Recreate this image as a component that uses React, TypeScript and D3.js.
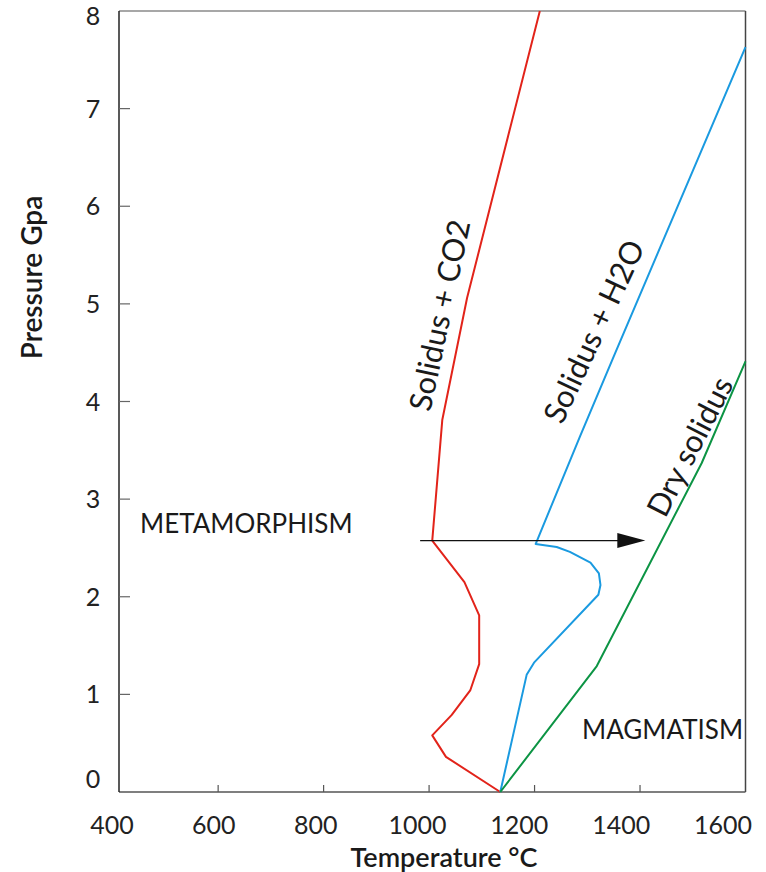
import React from "react";
import * as d3 from "d3";

// ---- data ----
const co2T = [1135, 1032, 1006, 1043, 1078, 1095, 1095, 1067, 1006, 1025, 1072, 1210];
const co2P = [0, 0.36, 0.58, 0.79, 1.04, 1.31, 1.81, 2.15, 2.575, 3.81, 5.06, 8.0];

const h2oT = [1135, 1185, 1199, 1321, 1325, 1322, 1306, 1267, 1242, 1202, 1286, 1350, 1600];
const h2oP = [0, 1.2, 1.325, 2.02, 2.12, 2.24, 2.35, 2.46, 2.51, 2.54, 3.64, 4.46, 7.63];

const dryT = [1135, 1318, 1517, 1600];
const dryP = [0, 1.29, 3.37, 4.41];

const arrowT = [983, 1410];
const arrowP = 2.575;

const xTickValues = [600, 800, 1000, 1200, 1400];
const xTickLabels = [400, 600, 800, 1000, 1200, 1400, 1600];
const yTickValues = [1, 2, 3, 4, 5, 6, 7];
const yTickLabels = [0, 1, 2, 3, 4, 5, 6, 7, 8];

const FONT = "Lato, 'Open Sans', sans-serif";

export default function App() {
  const W = 766;
  const H = 872;
  const x = d3.scaleLinear().domain([412, 1600]).range([119, 745.5]);
  const xLab = d3.scaleLinear().domain([400, 1600]).range([112, 723]);
  const y = d3.scaleLinear().domain([0, 8]).range([792, 11]);

  const line = d3
    .line<[number, number]>()
    .x((d) => x(d[0]))
    .y((d) => y(d[1]));

  const zip = (a: number[], b: number[]) => a.map((v, i) => [v, b[i]] as [number, number]);

  const x0 = x.range()[0];
  const x1 = x.range()[1];
  const y0 = y.range()[0];
  const y1 = y.range()[1];

  const ay = y(arrowP);
  const ax0 = x(arrowT[0]);
  const ax1 = x(arrowT[1]);
  const headLen = 28;
  const headHalf = 7.5;

  return (
    <svg
      width={W}
      height={H}
      style={{ position: "absolute", left: 0, top: 0, display: "block", background: "#fff" }}
      fontFamily={FONT}
    >
      <rect width={W} height={H} fill="#fff" />

      {/* frame */}
      <line x1={x0} x2={x1} y1={y1} y2={y1} stroke="#8a8a8a" strokeWidth={1.5} />
      <line x1={x1} x2={x1} y1={y1} y2={y0} stroke="#444" strokeWidth={1.5} />
      <line x1={x0} x2={x1} y1={y0} y2={y0} stroke="#555" strokeWidth={1.5} />
      <line x1={x0} x2={x0} y1={y1} y2={y0} stroke="#222" strokeWidth={1.5} />

      {/* ticks */}
      {xTickValues.map((v) => (
        <line key={"xt" + v} x1={x(v)} x2={x(v)} y1={y0} y2={y0 - 7} stroke="#555" strokeWidth={1.2} />
      ))}
      {yTickValues.map((v) => (
        <line key={"yt" + v} x1={x0} x2={x0 + 11} y1={y(v)} y2={y(v)} stroke="#666" strokeWidth={1.2} />
      ))}

      {/* tick labels */}
      {xTickLabels.map((v) => (
        <text key={"xl" + v} x={xLab(v)} y={834} fontSize={25} textAnchor="middle" fill="#222">
          {v}
        </text>
      ))}
      {yTickLabels.map((v) => {
        const cy = Math.min(Math.max(y(v), 16), 779);
        return (
          <text key={"yl" + v} x={93} y={cy + 9} fontSize={25} textAnchor="middle" fill="#222">
            {v}
          </text>
        );
      })}

      {/* axis titles */}
      <text x={444} y={867} fontSize={27} fontWeight={600} textAnchor="middle" fill="#1a1a1a">
        Temperature °C
      </text>
      <text
        transform={`translate(42,277.5) rotate(-90)`}
        fontSize={28}
        fontWeight={600}
        textAnchor="middle"
        fill="#1a1a1a"
      >
        Pressure Gpa
      </text>

      {/* curves */}
      <path d={line(zip(co2T, co2P)) || ""} fill="none" stroke="#e2231a" strokeWidth={2} strokeLinejoin="round" />
      <path d={line(zip(h2oT, h2oP)) || ""} fill="none" stroke="#1a9ae0" strokeWidth={2} strokeLinejoin="round" />
      <path d={line(zip(dryT, dryP)) || ""} fill="none" stroke="#0c9444" strokeWidth={2} strokeLinejoin="round" />

      {/* arrow */}
      <line x1={ax0} x2={ax1 - headLen + 2} y1={ay} y2={ay} stroke="#111" strokeWidth={1.2} />
      <path
        d={`M${ax1},${ay} L${ax1 - headLen},${ay - headHalf} L${ax1 - headLen},${ay + headHalf} Z`}
        fill="#111"
      />

      {/* region labels */}
      <text x={140} y={533} fontSize={26} fill="#1a1a1a">
        METAMORPHISM
      </text>
      <text x={582} y={739} fontSize={26} fill="#1a1a1a">
        MAGMATISM
      </text>

      {/* curve labels */}
      <text
        transform={`translate(438.7,315) rotate(-78)`}
        fontSize={31}
        textAnchor="middle"
        dominantBaseline="central"
        fill="#1a1a1a"
      >
        Solidus + CO2
      </text>
      <text
        transform={`translate(593,331) rotate(-65)`}
        fontSize={31}
        textAnchor="middle"
        dominantBaseline="central"
        fill="#1a1a1a"
      >
        Solidus + H2O
      </text>
      <text
        transform={`translate(689,446) rotate(-63)`}
        fontSize={31}
        textAnchor="middle"
        dominantBaseline="central"
        fill="#1a1a1a"
      >
        Dry solidus
      </text>
    </svg>
  );
}
